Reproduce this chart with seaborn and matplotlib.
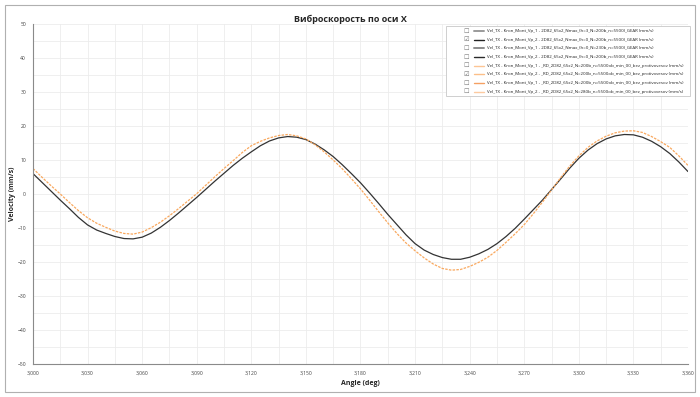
import matplotlib
matplotlib.use("Agg")
import matplotlib.pyplot as plt
import pandas as pd
import seaborn as sns
from matplotlib.lines import Line2D
from matplotlib.patches import Rectangle
from matplotlib.ticker import MultipleLocator, FuncFormatter

# angles (deg) and the two visible velocity traces (mm/s)
angle = list(range(3000, 3361, 5))
vel_gear = [6.0, 3.4, 0.8, -1.8, -4.3, -6.9, -9.1, -10.6, -11.6, -12.5,
            -13.1, -13.2, -12.7, -11.5, -9.8, -7.8, -5.6, -3.3, -1.0, 1.4,
            3.8, 6.1, 8.4, 10.5, 12.4, 14.2, 15.6, 16.5, 16.9, 16.7,
            16.0, 14.7, 13.0, 11.0, 8.6, 6.0, 3.3, 0.3, -2.8, -6.0,
            -9.0, -12.0, -14.6, -16.5, -17.8, -18.7, -19.2, -19.2, -18.6, -17.6,
            -16.3, -14.6, -12.5, -10.1, -7.4, -4.6, -1.8, 1.3, 4.4, 7.6,
            10.5, 12.9, 14.8, 16.2, 17.1, 17.5, 17.4, 16.7, 15.5, 13.9,
            11.9, 9.4, 6.6]
vel_rd = [7.5, 4.9, 2.4, 0.0, -2.5, -4.9, -7.0, -8.6, -9.8, -10.9,
          -11.6, -11.8, -11.2, -9.9, -8.3, -6.4, -4.3, -2.1, 0.1, 2.6,
          5.1, 7.5, 9.8, 12.2, 14.2, 15.5, 16.5, 17.2, 17.5, 17.1,
          16.2, 14.5, 12.4, 10.0, 7.4, 4.5, 1.5, -1.8, -5.2, -8.5,
          -11.6, -14.4, -16.7, -18.8, -20.6, -21.9, -22.4, -22.2, -21.3, -20.1,
          -18.6, -16.6, -14.2, -11.7, -9.0, -5.8, -2.4, 1.2, 4.8, 8.2,
          11.2, 13.7, 15.6, 17.0, 18.0, 18.5, 18.6, 18.1, 16.9, 15.4,
          13.7, 11.2, 8.4]

legend_labels = [
    "Vel_TX - Kron_Mont_Vp_1 - 2D82_65x2_Nmax_(h=3_N=200b_n=5500)_GEAR (mm/s)",
    "Vel_TX - Kron_Mont_Vp_2 - 2D82_65x2_Nmax_(h=0_N=200b_n=5500)_GEAR (mm/s)",
    "Vel_TX - Kron_Mont_Vp_1 - 2D82_65x2_Nmax_(h=0_N=230b_n=5500)_GEAR (mm/s)",
    "Vel_TX - Kron_Mont_Vp_2 - 2D82_65x2_Nmax_(h=0_N=200b_n=5500)_GEAR (mm/s)",
    "Vel_TX - Kron_Mont_Vp_1 - _RD_2D82_65x2_N=200b_n=5500ob_min_00_bez_protivovesov (mm/s)",
    "Vel_TX - Kron_Mont_Vp_2 - _RD_2D82_65x2_N=200b_n=5500ob_min_00_bez_protivovesov (mm/s)",
    "Vel_TX - Kron_Mont_Vp_1 - _RD_2D82_65x2_N=200b_n=5500ob_min_00_bez_protivovesov (mm/s)",
    "Vel_TX - Kron_Mont_Vp_2 - _RD_2D82_65x2_N=280b_n=5500ob_min_00_bez_protivovesov (mm/s)",
]
legend_colors = ["#9a9a9a", "#222222", "#8c8c8c", "#2a2a2a",
                 "#fdc594", "#fcbf88", "#f5a062", "#fccaa0"]
legend_checked = [False, True, False, False, False, True, False, False]

df = pd.DataFrame({"angle": angle, "gear": vel_gear, "rd": vel_rd})

sns.set_style("white")
plt.rcParams["font.family"] = ["Open Sans", "DejaVu Sans"]

W, H = 700, 397
fig = plt.figure(figsize=(W / 100, H / 100), dpi=100)
ax = fig.add_axes([33 / W, 1 - 364 / H, (688 - 33) / W, (364 - 24) / H])

sns.lineplot(data=df, x="angle", y="gear", ax=ax, color="#333333", lw=0.9)
sns.lineplot(data=df, x="angle", y="rd", ax=ax, color="#f9a85e", lw=0.9,
             linestyle=(0, (2, 1)))

ax.set_xlim(3000, 3360)
ax.set_ylim(-50, 50)
ax.xaxis.set_major_locator(MultipleLocator(30))
ax.xaxis.set_minor_locator(MultipleLocator(15))
ax.yaxis.set_major_locator(MultipleLocator(10))
ax.yaxis.set_minor_locator(MultipleLocator(5))
ax.xaxis.set_major_formatter(FuncFormatter(lambda v, p: f"{int(v):,}"))
ax.grid(True, which="both", color="#ececec", lw=0.6)
ax.set_axisbelow(True)

for s in ["top", "right"]:
    ax.spines[s].set_visible(False)
for s in ["left", "bottom"]:
    ax.spines[s].set_color("#8a8a8a")
    ax.spines[s].set_linewidth(0.8)
ax.tick_params(which="both", length=3, width=0.5, color="#8a8a8a",
               labelsize=3.6, labelcolor="#444444", pad=2)
ax.tick_params(which="minor", length=2)

ax.set_xlabel("Angle (deg)", fontsize=5, fontweight="bold", labelpad=3)
ax.set_ylabel("Velocity (mm/s)", fontsize=5, fontweight="bold", labelpad=1)
fig.text(350 / W, 1 - 19 / H, "Виброскорость по оси X", ha="center",
         va="center", fontsize=6.5, fontweight="bold")

# outer frame
fig.patches.append(Rectangle((5 / W, 1 - 392 / H), 690 / W, 387 / H,
                             transform=fig.transFigure, fill=False,
                             ec="#b0b0b0", lw=0.8))

# legend box with checkboxes
fig.patches.append(Rectangle((446 / W, 1 - 96 / H), 244 / W, 70 / H,
                             transform=fig.transFigure, fc="white",
                             ec="#c8c8c8", lw=0.6, zorder=5))
for i, (lab, col, chk) in enumerate(zip(legend_labels, legend_colors,
                                         legend_checked)):
    yy = 1 - (31 + i * 8.67) / H
    fig.text(466 / W, yy, "☑" if chk else "☐", ha="center", va="center",
             fontsize=4.5, color="#777777", family=["DejaVu Sans"], zorder=6)
    fig.lines.append(Line2D([474 / W, 484 / W], [yy, yy],
                            transform=fig.transFigure, color=col,
                            lw=1.4 if i in (0, 2) else 1.0, zorder=6))
    fig.text(487 / W, yy, lab, ha="left", va="center", fontsize=3.2,
             color="#222222", zorder=6)

fig.savefig("out.png", dpi=100)
